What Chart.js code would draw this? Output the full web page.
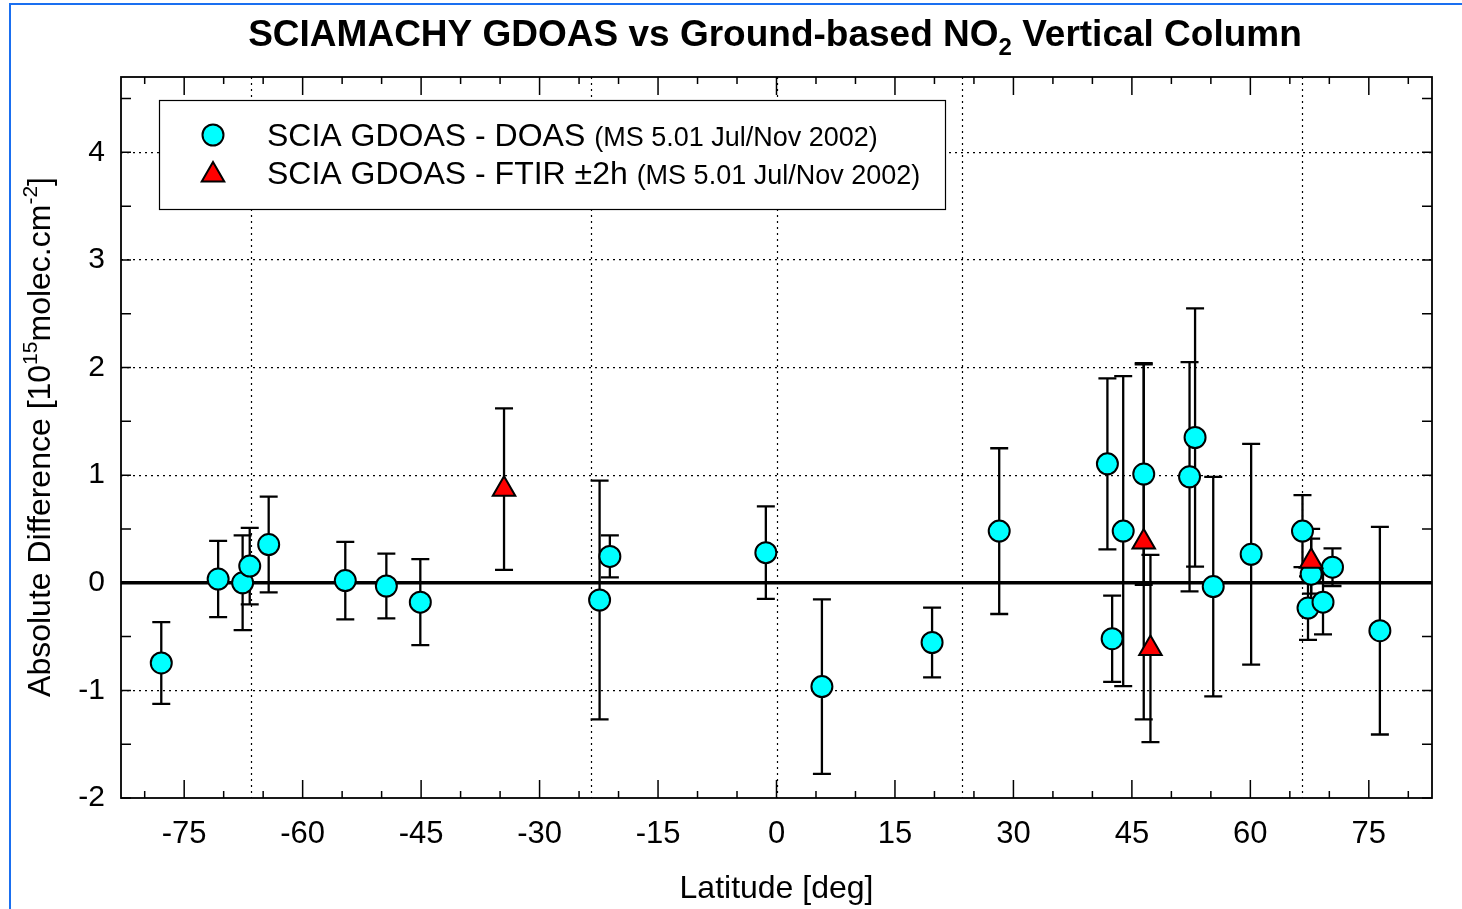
<!DOCTYPE html>
<html>
<head>
<meta charset="utf-8">
<title>SCIAMACHY GDOAS vs Ground-based NO2</title>
<script src="https://cdn.jsdelivr.net/npm/chart.js@4.4.1/dist/chart.umd.min.js"></script>
<style>
	html, body { margin:0; padding:0; background:#fff; }
	#wrap { position:relative; width:1462px; height:909px; overflow:hidden; }
	#frame { position:absolute; left:9px; top:3px; width:1600px; height:1000px; border-left:2px solid #1a6ff0; border-top:2px solid #1a6ff0; pointer-events:none; }
</style>
</head>
<body>
<div id="wrap">
	<canvas id="no2Chart" width="1462" height="909"></canvas>
	<div id="frame"></div>
</div>
<script>
/* ---------------------
	SCIA GDOAS - 지상관측 NO2 수직 컬럼 차이 (위도별)
 ---------------------- */

// DOAS 비교 지점 : 위도 / 차이 / 오차(±)
const doasLat  = [-77.9, -70.7, -67.6, -66.7, -64.3, -54.6, -49.4, -45.1, -22.4, -21.1, -1.35, 5.75, 19.7, 28.2,
                  41.9, 42.5, 43.9, 46.5, 52.3, 53.0, 55.3, 60.1, 66.6, 67.3, 67.7, 69.2, 70.4, 76.4];
const doasDiff = [-0.745, 0.035, 0.0, 0.155, 0.355, 0.02, -0.03, -0.18, -0.16, 0.245, 0.28, -0.965, -0.555, 0.48,
                  1.105, -0.52, 0.48, 1.01, 0.985, 1.35, -0.035, 0.265, 0.48, -0.235, 0.08, -0.18, 0.145, -0.445];
const doasErr  = [0.38, 0.355, 0.44, 0.355, 0.445, 0.36, 0.30, 0.40, 1.11, 0.195, 0.43, 0.81, 0.325, 0.77,
                  0.795, 0.40, 1.44, 1.03, 1.065, 1.2, 1.02, 1.025, 0.335, 0.295, 0.33, 0.30, 0.175, 0.965];

// FTIR ±2h 비교 지점
const ftirLat  = [-34.5, 46.5, 47.35, 67.7];
const ftirDiff = [0.87, 0.38, -0.61, 0.2];
const ftirErr  = [0.75, 1.65, 0.87, 0.3];

// 축 눈금 / 기준선 (극권, 회귀선, 적도)
const xTickLabels = [-75, -60, -45, -30, -15, 0, 15, 30, 45, 60, 75];
const yTickLabels = [-2, -1, 0, 1, 2, 3, 4];
const refLat = [-66.56, -23.44, 0, 23.44, 66.56];
const xRange = [-83, 83];
const yRange = [-2, 4.7];

const FONT = "'Liberation Sans', Arial, Helvetica, sans-serif";

function toPoints(lat, val) {
	return lat.map((v, i) => ({ x: v, y: val[i] }));
}

function $each(arr, fn) {
	for (let i = 0; i < arr.length; i++) fn(i, arr[i]);
}

// 위/아래첨자 포함 텍스트 출력 (parts: {t, size, dy, bold})
function drawRichText(ctx, parts, x, y, align) {
	let total = 0;
	parts.forEach(p => {
		ctx.font = (p.bold ? "bold " : "") + p.size + "px " + FONT;
		p.w = ctx.measureText(p.t).width;
		total += p.w;
	});
	let cx = (align == "center") ? x - total / 2 : x;
	ctx.textAlign = "left";
	ctx.textBaseline = "alphabetic";
	parts.forEach(p => {
		ctx.font = (p.bold ? "bold " : "") + p.size + "px " + FONT;
		ctx.fillText(p.t, cx, y + (p.dy || 0));
		cx += p.w;
	});
	return total;
}	// End of Function : drawRichText

function drawMarker(ctx, style, x, y, r, fill) {
	ctx.save();
	ctx.fillStyle = fill;
	ctx.strokeStyle = "#000";
	ctx.lineWidth = 2;
	ctx.beginPath();
	if (style == "triangle") {
		ctx.moveTo(x, y - r);
		ctx.lineTo(x + Math.sin(Math.PI * 2 / 3) * r, y + r / 2);
		ctx.lineTo(x - Math.sin(Math.PI * 2 / 3) * r, y + r / 2);
		ctx.closePath();
	} else {
		ctx.arc(x, y, r, 0, Math.PI * 2);
	}
	ctx.fill();
	ctx.stroke();
	ctx.restore();
}

// 기준선 + 외곽 프레임 + 안쪽 눈금
const axisFramePlugin = {
	id: "axisFrame",
	beforeDatasetsDraw(chart) {
		const { ctx, chartArea: a, scales: { x, y } } = chart;
		ctx.save();
		ctx.strokeStyle = "#000";
		ctx.lineWidth = 1.2;
		ctx.setLineDash([2, 4]);
		refLat.forEach(v => {
			const px = Math.round(x.getPixelForValue(v)) + 0.5;
			ctx.beginPath();
			ctx.moveTo(px, a.top);
			ctx.lineTo(px, a.bottom);
			ctx.stroke();
		});
		ctx.setLineDash([]);
		ctx.lineWidth = 1.5;
		ctx.beginPath();
		x.ticks.forEach(t => {
			const px = x.getPixelForValue(t.value);
			const len = (t.value % 15 == 0) ? 18 : 7;
			ctx.moveTo(px, a.bottom); ctx.lineTo(px, a.bottom - len);
			ctx.moveTo(px, a.top); ctx.lineTo(px, a.top + len);
		});
		y.ticks.forEach(t => {
			const py = y.getPixelForValue(t.value);
			ctx.moveTo(a.left, py); ctx.lineTo(a.left + 10, py);
			ctx.moveTo(a.right, py); ctx.lineTo(a.right - 10, py);
		});
		ctx.stroke();
		ctx.lineWidth = 1.8;
		ctx.strokeRect(a.left, a.top, a.right - a.left, a.bottom - a.top);
		ctx.restore();
	}
};

// 오차 막대 (마커 아래)
const errorBarPlugin = {
	id: "errorBars",
	beforeDatasetsDraw(chart) {
		const { ctx, scales: { x, y } } = chart;
		const cap = 9;
		ctx.save();
		ctx.strokeStyle = "#000";
		ctx.lineWidth = 2.3;
		const drawSet = (lat, val, err) => {
			$each(lat, (i, v) => {
				const px = x.getPixelForValue(v);
				const top = y.getPixelForValue(val[i] + err[i]);
				const bot = y.getPixelForValue(val[i] - err[i]);
				ctx.beginPath();
				ctx.moveTo(px, top); ctx.lineTo(px, bot);
				ctx.moveTo(px - cap, top); ctx.lineTo(px + cap, top);
				ctx.moveTo(px - cap, bot); ctx.lineTo(px + cap, bot);
				ctx.stroke();
			});
		};
		drawSet(doasLat, doasDiff, doasErr);
		drawSet(ftirLat, ftirDiff, ftirErr);
		ctx.restore();
	}
};

// 제목, Y축 제목, 범례
const textPlugin = {
	id: "titleLegend",
	afterDraw(chart) {
		const { ctx } = chart;
		ctx.save();
		ctx.fillStyle = "#000";

		drawRichText(ctx, [
			{ t: "SCIAMACHY GDOAS vs Ground-based NO", size: 37, bold: true },
			{ t: "2", size: 24, bold: true, dy: 9 },
			{ t: " Vertical Column", size: 37, bold: true }
		], 775, 46, "center");

		ctx.save();
		ctx.translate(50, 437);
		ctx.rotate(-Math.PI / 2);
		drawRichText(ctx, [
			{ t: "Absolute Difference [10", size: 32 },
			{ t: "15", size: 21, dy: -13 },
			{ t: "molec.cm", size: 32 },
			{ t: "-2", size: 21, dy: -13 },
			{ t: "]", size: 32 }
		], 0, 0, "center");
		ctx.restore();

		// 범례 박스
		const lx = 159.5, ly = 100.5, lw = 786, lh = 109;
		ctx.fillStyle = "#fff";
		ctx.fillRect(lx, ly, lw, lh);
		ctx.strokeStyle = "#000";
		ctx.lineWidth = 1.2;
		ctx.strokeRect(lx, ly, lw, lh);

		const rows = chart.data.datasets.filter(d => d.legendSub);
		rows.forEach((ds, i) => {
			const ry = 135 + i * 38;
			drawMarker(ctx, ds.pointStyle, 213, ry + (ds.pointStyle == "triangle" ? 2 : 0), ds.pointRadius, ds.backgroundColor);
			ctx.fillStyle = "#000";
			drawRichText(ctx, [
				{ t: ds.label + " ", size: 32 },
				{ t: ds.legendSub, size: 27 }
			], 267, ry + 11, "left");
		});
		ctx.restore();
	}
};

const ctx = document.getElementById("no2Chart");
const chart = new Chart(ctx, {
	type: "scatter",
	data: {
		datasets: [
			{
				label: "zero",
				type: "line",
				data: [{ x: xRange[0], y: 0 }, { x: xRange[1], y: 0 }],
				borderColor: "#000",
				borderWidth: 3.5,
				pointRadius: 0,
				order: 3
			},
			{
				label: "SCIA GDOAS - DOAS",
				legendSub: "(MS 5.01 Jul/Nov 2002)",
				data: toPoints(doasLat, doasDiff),
				pointStyle: "circle",
				pointRadius: 10.5,
				backgroundColor: "#00ffff",
				borderColor: "#000",
				borderWidth: 2,
				order: 2
			},
			{
				label: "SCIA GDOAS - FTIR \u00b12h",
				legendSub: "(MS 5.01 Jul/Nov 2002)",
				data: toPoints(ftirLat, ftirDiff),
				pointStyle: "triangle",
				pointRadius: 13,
				backgroundColor: "#ff0000",
				borderColor: "#000",
				borderWidth: 2,
				order: 1
			}
		]
	},
	options: {
		responsive: false,
		animation: false,
		devicePixelRatio: 1,
		events: [],
		layout: { padding: { top: 77, right: 30, left: 0, bottom: 0 } },
		plugins: {
			legend: { display: false },
			title: { display: false },
			tooltip: { enabled: false }
		},
		scales: {
			x: {
				type: "linear",
				min: xRange[0],
				max: xRange[1],
				afterFit: (scale) => { scale.height = 111; },
				grid: { display: false },
				border: { display: false },
				ticks: {
					stepSize: 5,
					includeBounds: false,
					autoSkip: false,
					maxRotation: 0,
					padding: 10,
					color: "#000",
					font: { family: FONT, size: 31 },
					callback: (v) => xTickLabels.includes(v) ? String(v) : ""
				},
				title: {
					display: true,
					text: "Latitude [deg]",
					color: "#000",
					font: { family: FONT, size: 32 },
					padding: { top: 0, bottom: 1 }
				}
			},
			y: {
				type: "linear",
				min: yRange[0],
				max: yRange[1],
				afterFit: (scale) => { scale.width = 121; },
				grid: {
					drawTicks: false,
					lineWidth: 1.2,
					color: (c) => (yTickLabels.includes(c.tick.value) && c.tick.value != 0 && c.tick.value != yRange[0]) ? "#000" : "rgba(0,0,0,0)"
				},
				border: { display: false, dash: [2, 4] },
				ticks: {
					stepSize: 0.5,
					includeBounds: false,
					autoSkip: false,
					padding: 16,
					color: "#000",
					font: { family: FONT, size: 30 },
					callback: (v) => yTickLabels.includes(v) ? String(v) : ""
				}
			}
		}
	},
	plugins: [axisFramePlugin, errorBarPlugin, textPlugin]
});
</script>
</body>
</html>
